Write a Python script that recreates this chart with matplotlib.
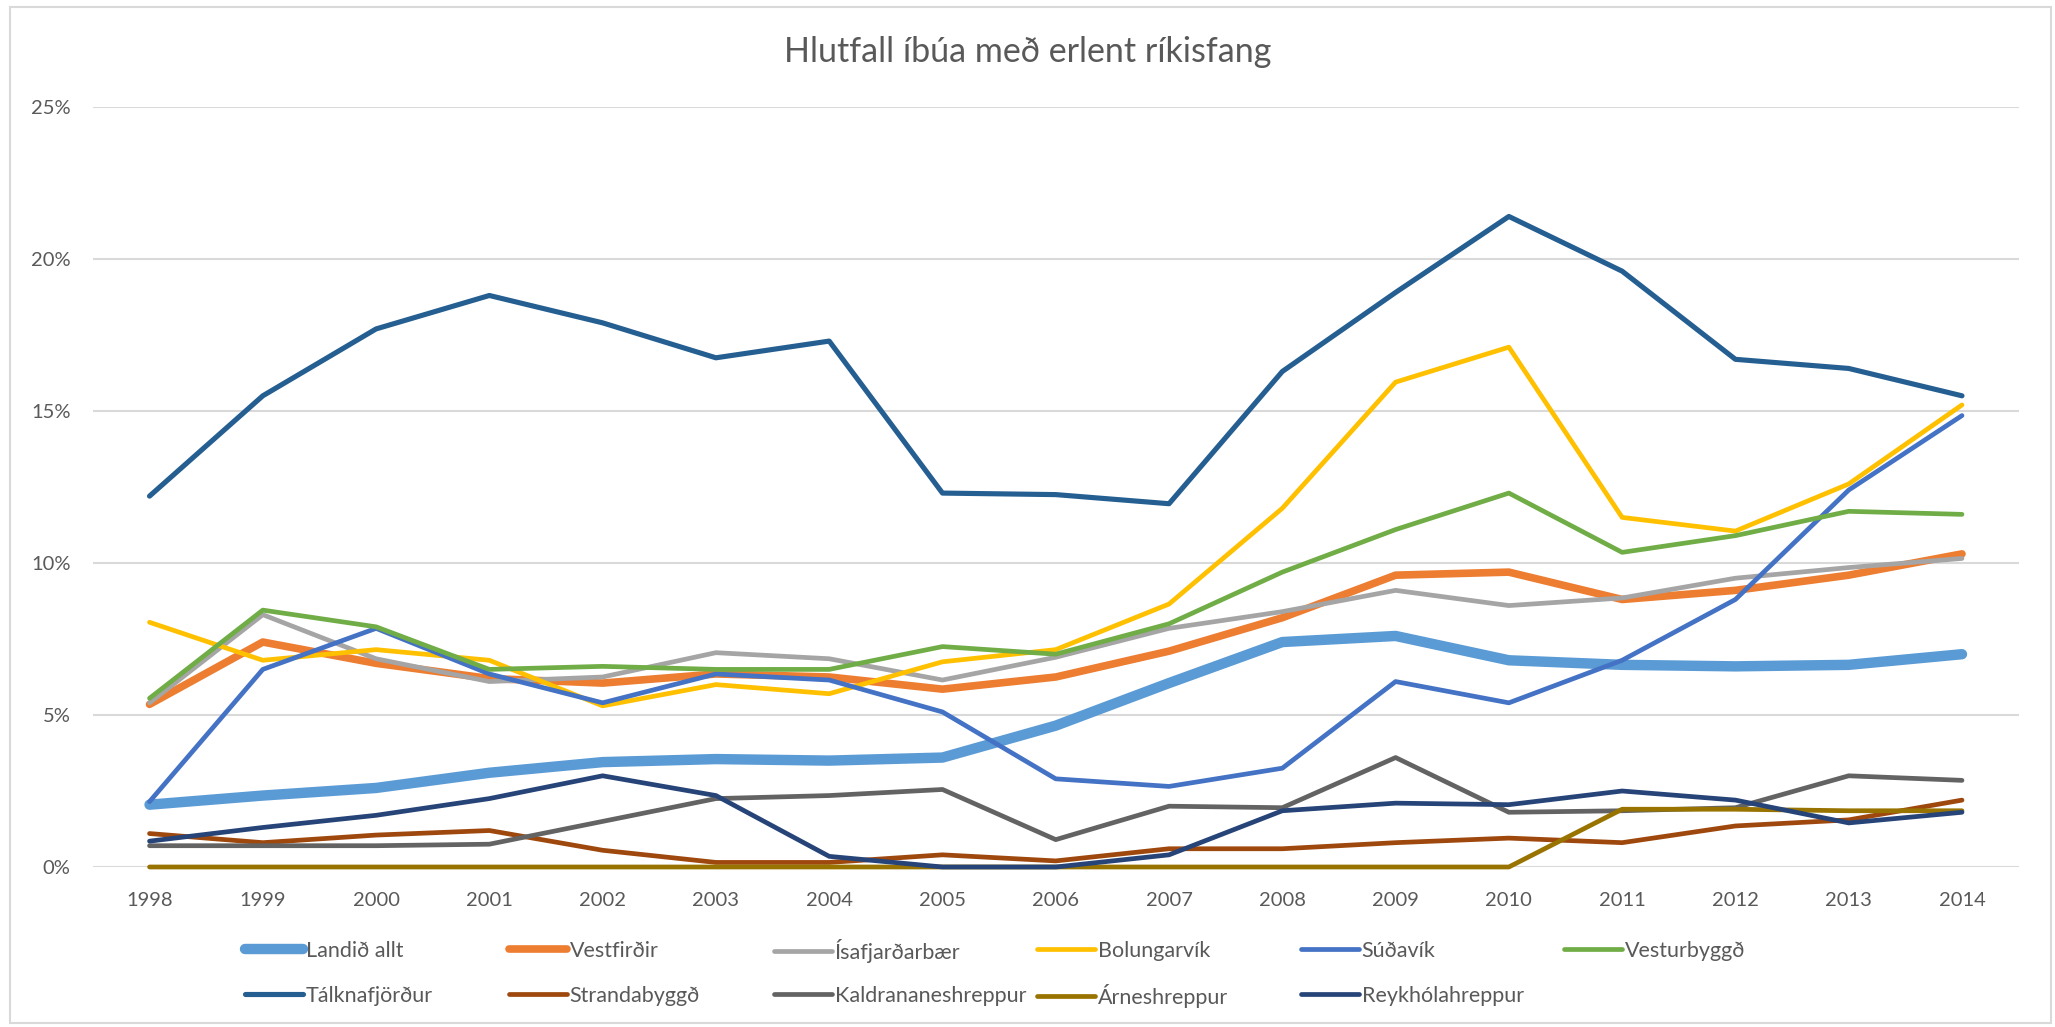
import matplotlib
matplotlib.use("Agg")
import matplotlib.pyplot as plt
from matplotlib.patches import Rectangle
from matplotlib.ticker import FuncFormatter

years = [str(y) for y in range(1998, 2015)]

landid_allt = [2.05, 2.35, 2.6, 3.1, 3.45, 3.55, 3.5, 3.6, 4.65, 6.05, 7.4, 7.6, 6.8, 6.65, 6.6, 6.65, 7.0]
vestfirdir = [5.35, 7.4, 6.7, 6.2, 6.05, 6.35, 6.25, 5.85, 6.25, 7.1, 8.2, 9.6, 9.7, 8.8, 9.1, 9.6, 10.3]
isafjardarbaer = [5.4, 8.3, 6.85, 6.1, 6.25, 7.05, 6.85, 6.15, 6.9, 7.85, 8.4, 9.1, 8.6, 8.85, 9.5, 9.85, 10.15]
bolungarvik = [8.05, 6.8, 7.15, 6.8, 5.3, 6.0, 5.7, 6.75, 7.15, 8.65, 11.8, 15.95, 17.1, 11.5, 11.05, 12.6, 15.2]
sudavik = [2.15, 6.5, 7.85, 6.35, 5.4, 6.35, 6.15, 5.1, 2.9, 2.65, 3.25, 6.1, 5.4, 6.8, 8.8, 12.4, 14.85]
vesturbyggd = [5.55, 8.45, 7.9, 6.5, 6.6, 6.5, 6.5, 7.25, 7.0, 8.0, 9.7, 11.1, 12.3, 10.35, 10.9, 11.7, 11.6]
talknafjordur = [12.2, 15.5, 17.7, 18.8, 17.9, 16.75, 17.3, 12.3, 12.25, 11.95, 16.3, 18.9, 21.4, 19.6, 16.7, 16.4, 15.5]
strandabyggd = [1.1, 0.8, 1.05, 1.2, 0.55, 0.15, 0.15, 0.4, 0.2, 0.6, 0.6, 0.8, 0.95, 0.8, 1.35, 1.55, 2.2]
kaldrananeshreppur = [0.7, 0.7, 0.7, 0.75, 1.5, 2.25, 2.35, 2.55, 0.9, 2.0, 1.95, 3.6, 1.8, 1.85, 1.95, 3.0, 2.85]
arneshreppur = [0, 0, 0, 0, 0, 0, 0, 0, 0, 0, 0, 0, 0, 1.9, 1.9, 1.85, 1.85]
reykholahreppur = [0.85, 1.3, 1.7, 2.25, 3.0, 2.35, 0.35, 0, 0, 0.4, 1.85, 2.1, 2.05, 2.5, 2.2, 1.45, 1.8]

series = [
    ("Landið allt", landid_allt, "#5B9BD5", 7.5),
    ("Vestfirðir", vestfirdir, "#ED7D31", 5.5),
    ("Ísafjarðarbær", isafjardarbaer, "#A5A5A5", 3.4),
    ("Bolungarvík", bolungarvik, "#FFC000", 3.4),
    ("Súðavík", sudavik, "#4472C4", 3.4),
    ("Vesturbyggð", vesturbyggd, "#70AD47", 3.4),
    ("Tálknafjörður", talknafjordur, "#255E91", 3.7),
    ("Strandabyggð", strandabyggd, "#9E480E", 3.4),
    ("Kaldrananeshreppur", kaldrananeshreppur, "#636363", 3.4),
    ("Árneshreppur", arneshreppur, "#997300", 3.4),
    ("Reykhólahreppur", reykholahreppur, "#264478", 3.4),
]

plt.rcParams['font.family'] = ['Lato', 'DejaVu Sans']
txt = '#595959'

fig = plt.figure(figsize=(20.55, 10.27), dpi=100)
ax = fig.add_axes([0.0452, 0.1558, 0.9371, 0.74])

x = list(range(len(years)))
lines = []
for name, vals, col, lw in series:
    # Excel does not clip lines at the axis, so the zero values stay full width
    ln, = ax.plot(x, vals, color=col, lw=lw, solid_capstyle='round',
                  solid_joinstyle='round', label=name, clip_on=False)
    lines.append(ln)

ax.set_xlim(-0.5, len(years) - 0.5)
ax.set_ylim(0, 25)
ax.set_yticks([0, 5, 10, 15, 20, 25])
ax.yaxis.set_major_formatter(FuncFormatter(lambda v, p: "%d%%" % v))
ax.set_xticks(x)
ax.set_xticklabels(years)
ax.grid(axis='y', color='#D9D9D9', lw=1.5)
ax.set_axisbelow(True)
for s in ax.spines.values():
    s.set_visible(False)
ax.tick_params(length=0, labelsize=14.5, labelcolor=txt)
ax.tick_params(axis='y', pad=16)
ax.tick_params(axis='x', pad=18)

fig.text(0.5, 0.949, "Hlutfall íbúa með erlent ríkisfang", ha='center', va='center',
         fontsize=24.5, color=txt)

# legend entries placed one by one, 6 per row like Excel
col_x = [245, 509, 774, 1037, 1301, 1564]
row_y = [951, 996]
for i, ln in enumerate(lines):
    r, c = divmod(i, 6)
    fig.legend([ln], [ln.get_label()], loc='center left', frameon=False,
               bbox_to_anchor=(col_x[c] / 2055, 1 - row_y[r] / 1027),
               fontsize=15.5, handlelength=2.7, handletextpad=0.12,
               borderpad=0, borderaxespad=0, labelcolor=txt)

fig.patches.append(Rectangle((10 / 2055, 4 / 1027), 2041 / 2055, 1016 / 1027,
                             transform=fig.transFigure, fill=False,
                             edgecolor='#D9D9D9', lw=1.5))

fig.savefig("out.png", dpi=100)
